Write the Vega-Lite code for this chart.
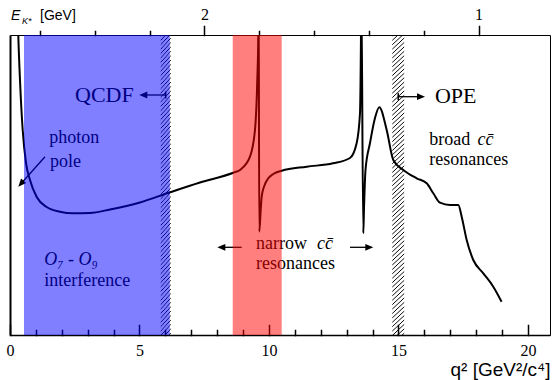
{
  "$schema": "https://vega.github.io/schema/vega-lite/v6.json",
  "width": 540,
  "height": 300,
  "autosize": {"type": "none"},
  "padding": {"left": 10, "top": 35, "right": 3, "bottom": 45},
  "config": {
    "view": {"stroke": "black", "strokeWidth": 1},
    "axis": {"grid": false, "domainColor": "black", "labelColor": "black", "titleColor": "black", "labelOverlap": false}
  },
  "datasets": {
    "curve": [
      {"q2": 0.29, "y": 330}, {"q2": 0.32, "y": 300}, {"q2": 0.386, "y": 255}, {"q2": 0.49, "y": 205},
      {"q2": 0.618, "y": 172}, {"q2": 0.772, "y": 155}, {"q2": 1.031, "y": 138}, {"q2": 1.417, "y": 128},
      {"q2": 1.931, "y": 123.3}, {"q2": 2.432, "y": 121.7}, {"q2": 3.089, "y": 122}, {"q2": 3.861, "y": 125.5},
      {"q2": 5.019, "y": 132.5}, {"q2": 6.178, "y": 142.7}, {"q2": 7.336, "y": 152.5}, {"q2": 8.622, "y": 162.3},
      {"q2": 8.88, "y": 165}, {"q2": 9.266, "y": 178.3}, {"q2": 9.459, "y": 205}, {"q2": 9.548, "y": 255},
      {"q2": 9.587, "y": 300}, {"q2": 9.6, "y": 345}, {"q2": 9.625, "y": 103.3}, {"q2": 9.68, "y": 125},
      {"q2": 9.718, "y": 138.3}, {"q2": 9.807, "y": 148.3}, {"q2": 9.973, "y": 156.7}, {"q2": 10.166, "y": 161},
      {"q2": 10.49, "y": 164.3}, {"q2": 11.456, "y": 168.3}, {"q2": 12.471, "y": 171.7}, {"q2": 13.127, "y": 177},
      {"q2": 13.386, "y": 192}, {"q2": 13.514, "y": 222}, {"q2": 13.552, "y": 300}, {"q2": 13.565, "y": 345},
      {"q2": 13.641, "y": 101.7}, {"q2": 13.67, "y": 128}, {"q2": 13.726, "y": 165}, {"q2": 13.9, "y": 192},
      {"q2": 14.093, "y": 217}, {"q2": 14.259, "y": 227.7}, {"q2": 14.544, "y": 205}, {"q2": 14.799, "y": 175},
      {"q2": 15.185, "y": 165}, {"q2": 15.703, "y": 156.7}, {"q2": 16.089, "y": 151.7}, {"q2": 16.344, "y": 141.7},
      {"q2": 16.602, "y": 132.3}, {"q2": 16.988, "y": 130}, {"q2": 17.309, "y": 130}, {"q2": 17.44, "y": 118.3},
      {"q2": 17.633, "y": 95}, {"q2": 17.888, "y": 75}, {"q2": 18.274, "y": 61.7}, {"q2": 18.66, "y": 48.3},
      {"q2": 18.98, "y": 33.3}
    ],
    "bands": [
      {"q2": 0.54, "q2b": 6.17, "band": "QCDF"},
      {"q2": 8.6, "q2b": 10.49, "band": "narrow"}
    ],
    "hatch": [
      {"q2": 5.82, "q2b": 6.21},
      {"q2": 14.76, "q2b": 15.22}
    ],
    "labels": [
      {"q2": 2.51, "y": 233.3, "text": "QCDF", "group": "big"},
      {"q2": 16.409, "y": 231.7, "text": "OPE", "group": "big"},
      {"q2": 1.517, "y": 191.7, "text": "photon", "group": "roman"},
      {"q2": 1.544, "y": 168.3, "text": "pole", "group": "roman"},
      {"q2": 1.324, "y": 49, "text": "interference", "group": "roman"},
      {"q2": 9.498, "y": 86, "text": "narrow", "group": "roman"},
      {"q2": 9.498, "y": 66, "text": "resonances", "group": "roman"},
      {"q2": 16.19, "y": 190, "text": "broad", "group": "roman"},
      {"q2": 16.19, "y": 170.5, "text": "resonances", "group": "roman"},
      {"q2": 1.324, "y": 70, "text": "O₇ - O₉", "group": "italic"},
      {"q2": 11.85, "y": 86, "text": "cc̄", "group": "italic"},
      {"q2": 18.05, "y": 190, "text": "cc̄", "group": "italic"},
      {"q2": 0.039, "y": 315, "text": "E", "group": "sansitalic"},
      {"q2": 0.46, "y": 311.5, "text": "K*", "group": "sub"},
      {"q2": 1.158, "y": 315, "text": "[GeV]", "group": "sans"}
    ],
    "arrows": [
      {"q2": 6.01, "q2b": 5.15, "y": 240, "yb": 240},
      {"q2": 14.99, "q2b": 15.87, "y": 238.3, "yb": 238.3},
      {"q2": 8.946, "q2b": 8.158, "y": 87.7, "yb": 87.7},
      {"q2": 13.127, "q2b": 13.873, "y": 87.7, "yb": 87.7},
      {"q2": 1.351, "q2b": 0.423, "y": 178.3, "yb": 151.3}
    ],
    "heads": [
      {"q2": 5.147, "y": 240, "dir": "left"},
      {"q2": 15.87, "y": 238.3, "dir": "right"},
      {"q2": 8.158, "y": 87.7, "dir": "left"},
      {"q2": 13.873, "y": 87.7, "dir": "right"},
      {"q2": 0.423, "y": 151.3, "dir": "downleft"}
    ],
    "tails": [
      {"q2": 6.01, "y": 240},
      {"q2": 14.99, "y": 238.3}
    ],
    "axisQ": [{"q2": 10}],
    "axisE": [{"E": 1.5}]
  },
  "layer": [
    {
      "layer": [
        {
          "data": {"name": "curve"},
          "mark": {"type": "line", "interpolate": "monotone", "color": "black", "strokeWidth": 2, "clip": true},
          "encoding": {
            "x": {
              "field": "q2", "type": "quantitative",
              "scale": {"domain": [0, 20.85], "nice": false, "zero": false},
              "axis": {
                "orient": "bottom",
                "values": [0, 5, 10, 15, 20],
                "format": "d",
                "ticks": true,
                "tickSize": -10,
                "tickWidth": 1.5,
                "tickColor": "#000000",
                "tickCap": "square",
                "tickOpacity": 1,
                "domainWidth": 1.5,
                "labelFont": "Liberation Serif",
                "labelFontSize": 16,
                "labelPadding": 17,
                "labelFlush": false,
                "labelOverlap": false,
                "title": "q² [GeV²/c⁴]",
                "titleFont": "Liberation Sans",
                "titleFontSize": 19,
                "titleFontWeight": "normal",
                "titleAnchor": "end",
                "titleAlign": "right",
                "titleBaseline": "alphabetic",
                "titleX": 540,
                "titleY": 40
              }
            },
            "y": {
              "field": "y", "type": "quantitative",
              "scale": {"domain": [0, 300], "nice": false, "zero": false},
              "axis": {"ticks": false, "labels": false, "title": null, "domainWidth": 2}
            }
          }
        },
        {
          "data": {"name": "labels"},
          "transform": [{"filter": "datum.group === 'big'"}],
          "mark": {"type": "text", "font": "Liberation Serif", "fontSize": 22, "align": "left", "baseline": "alphabetic", "color": "black"},
          "encoding": {
            "x": {"field": "q2", "type": "quantitative"},
            "y": {"field": "y", "type": "quantitative"},
            "text": {"field": "text"}
          }
        },
        {
          "data": {"name": "labels"},
          "transform": [{"filter": "datum.group === 'roman'"}],
          "mark": {"type": "text", "font": "Liberation Serif", "fontSize": 18, "align": "left", "baseline": "alphabetic", "color": "black"},
          "encoding": {
            "x": {"field": "q2", "type": "quantitative"},
            "y": {"field": "y", "type": "quantitative"},
            "text": {"field": "text"}
          }
        },
        {
          "data": {"name": "labels"},
          "transform": [{"filter": "datum.group === 'italic'"}],
          "mark": {"type": "text", "font": "Liberation Serif", "fontStyle": "italic", "fontSize": 18, "align": "left", "baseline": "alphabetic", "color": "black"},
          "encoding": {
            "x": {"field": "q2", "type": "quantitative"},
            "y": {"field": "y", "type": "quantitative"},
            "text": {"field": "text"}
          }
        },
        {
          "data": {"name": "labels"},
          "transform": [{"filter": "datum.group === 'sansitalic'"}],
          "mark": {"type": "text", "font": "Liberation Sans", "fontStyle": "italic", "fontSize": 14, "align": "left", "baseline": "alphabetic", "color": "black"},
          "encoding": {
            "x": {"field": "q2", "type": "quantitative"},
            "y": {"field": "y", "type": "quantitative"},
            "text": {"field": "text"}
          }
        },
        {
          "data": {"name": "labels"},
          "transform": [{"filter": "datum.group === 'sub'"}],
          "mark": {"type": "text", "font": "Liberation Sans", "fontStyle": "italic", "fontSize": 9, "align": "left", "baseline": "alphabetic", "color": "black"},
          "encoding": {
            "x": {"field": "q2", "type": "quantitative"},
            "y": {"field": "y", "type": "quantitative"},
            "text": {"field": "text"}
          }
        },
        {
          "data": {"name": "labels"},
          "transform": [{"filter": "datum.group === 'sans'"}],
          "mark": {"type": "text", "font": "Liberation Sans", "fontSize": 14, "align": "left", "baseline": "alphabetic", "color": "black"},
          "encoding": {
            "x": {"field": "q2", "type": "quantitative"},
            "y": {"field": "y", "type": "quantitative"},
            "text": {"field": "text"}
          }
        },
        {
          "data": {"name": "arrows"},
          "mark": {"type": "rule", "color": "black", "strokeWidth": 1.3},
          "encoding": {
            "x": {"field": "q2", "type": "quantitative"},
            "x2": {"field": "q2b"},
            "y": {"field": "y", "type": "quantitative"},
            "y2": {"field": "yb"}
          }
        },
        {
          "data": {"name": "heads"},
          "mark": {"type": "point", "shape": "M1,0L-1,-0.85L-1,0.85Z", "filled": true, "color": "black", "opacity": 1, "size": 64},
          "encoding": {
            "x": {"field": "q2", "type": "quantitative"},
            "y": {"field": "y", "type": "quantitative"},
            "angle": {"field": "dir", "type": "nominal", "scale": {"type": "ordinal", "domain": ["left", "right", "downleft"], "range": [180, 0, 131.7]}, "legend": null}
          }
        },
        {
          "data": {"name": "tails"},
          "mark": {"type": "point", "shape": "M0,-1L0,1", "filled": false, "stroke": "black", "strokeWidth": 1.5, "opacity": 1, "size": 49},
          "encoding": {
            "x": {"field": "q2", "type": "quantitative"},
            "y": {"field": "y", "type": "quantitative"}
          }
        },
        {
          "data": {"name": "hatch"},
          "mark": {
            "type": "rect",
            "fill": {
              "gradient": "linear", "x1": 0, "y1": 0, "x2": 0.0385, "y2": 1.04,
              "stops": [
                {"offset":0,"color":"rgba(0,0,0,0)"},{"offset":0.003,"color":"black"},{"offset":0.006,"color":"rgba(0,0,0,0)"},
                {"offset":0.0141,"color":"rgba(0,0,0,0)"},{"offset":0.0171,"color":"black"},{"offset":0.0201,"color":"rgba(0,0,0,0)"},
                {"offset":0.0282,"color":"rgba(0,0,0,0)"},{"offset":0.0312,"color":"black"},{"offset":0.0342,"color":"rgba(0,0,0,0)"},
                {"offset":0.0423,"color":"rgba(0,0,0,0)"},{"offset":0.0453,"color":"black"},{"offset":0.0483,"color":"rgba(0,0,0,0)"},
                {"offset":0.0564,"color":"rgba(0,0,0,0)"},{"offset":0.0594,"color":"black"},{"offset":0.0624,"color":"rgba(0,0,0,0)"},
                {"offset":0.0705,"color":"rgba(0,0,0,0)"},{"offset":0.0735,"color":"black"},{"offset":0.0765,"color":"rgba(0,0,0,0)"},
                {"offset":0.0846,"color":"rgba(0,0,0,0)"},{"offset":0.0876,"color":"black"},{"offset":0.0906,"color":"rgba(0,0,0,0)"},
                {"offset":0.0987,"color":"rgba(0,0,0,0)"},{"offset":0.1017,"color":"black"},{"offset":0.1047,"color":"rgba(0,0,0,0)"},
                {"offset":0.1128,"color":"rgba(0,0,0,0)"},{"offset":0.1158,"color":"black"},{"offset":0.1188,"color":"rgba(0,0,0,0)"},
                {"offset":0.1269,"color":"rgba(0,0,0,0)"},{"offset":0.1299,"color":"black"},{"offset":0.1329,"color":"rgba(0,0,0,0)"},
                {"offset":0.141,"color":"rgba(0,0,0,0)"},{"offset":0.144,"color":"black"},{"offset":0.147,"color":"rgba(0,0,0,0)"},
                {"offset":0.1551,"color":"rgba(0,0,0,0)"},{"offset":0.1581,"color":"black"},{"offset":0.1611,"color":"rgba(0,0,0,0)"},
                {"offset":0.1692,"color":"rgba(0,0,0,0)"},{"offset":0.1722,"color":"black"},{"offset":0.1752,"color":"rgba(0,0,0,0)"},
                {"offset":0.1833,"color":"rgba(0,0,0,0)"},{"offset":0.1863,"color":"black"},{"offset":0.1893,"color":"rgba(0,0,0,0)"},
                {"offset":0.1974,"color":"rgba(0,0,0,0)"},{"offset":0.2004,"color":"black"},{"offset":0.2034,"color":"rgba(0,0,0,0)"},
                {"offset":0.2115,"color":"rgba(0,0,0,0)"},{"offset":0.2145,"color":"black"},{"offset":0.2175,"color":"rgba(0,0,0,0)"},
                {"offset":0.2256,"color":"rgba(0,0,0,0)"},{"offset":0.2286,"color":"black"},{"offset":0.2316,"color":"rgba(0,0,0,0)"},
                {"offset":0.2397,"color":"rgba(0,0,0,0)"},{"offset":0.2427,"color":"black"},{"offset":0.2457,"color":"rgba(0,0,0,0)"},
                {"offset":0.2538,"color":"rgba(0,0,0,0)"},{"offset":0.2568,"color":"black"},{"offset":0.2598,"color":"rgba(0,0,0,0)"},
                {"offset":0.2679,"color":"rgba(0,0,0,0)"},{"offset":0.2709,"color":"black"},{"offset":0.2739,"color":"rgba(0,0,0,0)"},
                {"offset":0.282,"color":"rgba(0,0,0,0)"},{"offset":0.285,"color":"black"},{"offset":0.288,"color":"rgba(0,0,0,0)"},
                {"offset":0.2961,"color":"rgba(0,0,0,0)"},{"offset":0.2991,"color":"black"},{"offset":0.3021,"color":"rgba(0,0,0,0)"},
                {"offset":0.3102,"color":"rgba(0,0,0,0)"},{"offset":0.3132,"color":"black"},{"offset":0.3162,"color":"rgba(0,0,0,0)"},
                {"offset":0.3243,"color":"rgba(0,0,0,0)"},{"offset":0.3273,"color":"black"},{"offset":0.3303,"color":"rgba(0,0,0,0)"},
                {"offset":0.3384,"color":"rgba(0,0,0,0)"},{"offset":0.3414,"color":"black"},{"offset":0.3444,"color":"rgba(0,0,0,0)"},
                {"offset":0.3525,"color":"rgba(0,0,0,0)"},{"offset":0.3555,"color":"black"},{"offset":0.3585,"color":"rgba(0,0,0,0)"},
                {"offset":0.3666,"color":"rgba(0,0,0,0)"},{"offset":0.3696,"color":"black"},{"offset":0.3726,"color":"rgba(0,0,0,0)"},
                {"offset":0.3807,"color":"rgba(0,0,0,0)"},{"offset":0.3837,"color":"black"},{"offset":0.3867,"color":"rgba(0,0,0,0)"},
                {"offset":0.3948,"color":"rgba(0,0,0,0)"},{"offset":0.3978,"color":"black"},{"offset":0.4008,"color":"rgba(0,0,0,0)"},
                {"offset":0.4089,"color":"rgba(0,0,0,0)"},{"offset":0.4119,"color":"black"},{"offset":0.4149,"color":"rgba(0,0,0,0)"},
                {"offset":0.423,"color":"rgba(0,0,0,0)"},{"offset":0.426,"color":"black"},{"offset":0.429,"color":"rgba(0,0,0,0)"},
                {"offset":0.4371,"color":"rgba(0,0,0,0)"},{"offset":0.4401,"color":"black"},{"offset":0.4431,"color":"rgba(0,0,0,0)"},
                {"offset":0.4512,"color":"rgba(0,0,0,0)"},{"offset":0.4542,"color":"black"},{"offset":0.4572,"color":"rgba(0,0,0,0)"},
                {"offset":0.4653,"color":"rgba(0,0,0,0)"},{"offset":0.4683,"color":"black"},{"offset":0.4713,"color":"rgba(0,0,0,0)"},
                {"offset":0.4794,"color":"rgba(0,0,0,0)"},{"offset":0.4824,"color":"black"},{"offset":0.4854,"color":"rgba(0,0,0,0)"},
                {"offset":0.4935,"color":"rgba(0,0,0,0)"},{"offset":0.4965,"color":"black"},{"offset":0.4995,"color":"rgba(0,0,0,0)"},
                {"offset":0.5076,"color":"rgba(0,0,0,0)"},{"offset":0.5106,"color":"black"},{"offset":0.5136,"color":"rgba(0,0,0,0)"},
                {"offset":0.5217,"color":"rgba(0,0,0,0)"},{"offset":0.5247,"color":"black"},{"offset":0.5277,"color":"rgba(0,0,0,0)"},
                {"offset":0.5358,"color":"rgba(0,0,0,0)"},{"offset":0.5388,"color":"black"},{"offset":0.5418,"color":"rgba(0,0,0,0)"},
                {"offset":0.5499,"color":"rgba(0,0,0,0)"},{"offset":0.5529,"color":"black"},{"offset":0.5559,"color":"rgba(0,0,0,0)"},
                {"offset":0.564,"color":"rgba(0,0,0,0)"},{"offset":0.567,"color":"black"},{"offset":0.57,"color":"rgba(0,0,0,0)"},
                {"offset":0.5781,"color":"rgba(0,0,0,0)"},{"offset":0.5811,"color":"black"},{"offset":0.5841,"color":"rgba(0,0,0,0)"},
                {"offset":0.5922,"color":"rgba(0,0,0,0)"},{"offset":0.5952,"color":"black"},{"offset":0.5982,"color":"rgba(0,0,0,0)"},
                {"offset":0.6063,"color":"rgba(0,0,0,0)"},{"offset":0.6093,"color":"black"},{"offset":0.6123,"color":"rgba(0,0,0,0)"},
                {"offset":0.6204,"color":"rgba(0,0,0,0)"},{"offset":0.6234,"color":"black"},{"offset":0.6264,"color":"rgba(0,0,0,0)"},
                {"offset":0.6345,"color":"rgba(0,0,0,0)"},{"offset":0.6375,"color":"black"},{"offset":0.6405,"color":"rgba(0,0,0,0)"},
                {"offset":0.6486,"color":"rgba(0,0,0,0)"},{"offset":0.6516,"color":"black"},{"offset":0.6546,"color":"rgba(0,0,0,0)"},
                {"offset":0.6627,"color":"rgba(0,0,0,0)"},{"offset":0.6657,"color":"black"},{"offset":0.6687,"color":"rgba(0,0,0,0)"},
                {"offset":0.6768,"color":"rgba(0,0,0,0)"},{"offset":0.6798,"color":"black"},{"offset":0.6828,"color":"rgba(0,0,0,0)"},
                {"offset":0.6909,"color":"rgba(0,0,0,0)"},{"offset":0.6939,"color":"black"},{"offset":0.6969,"color":"rgba(0,0,0,0)"},
                {"offset":0.705,"color":"rgba(0,0,0,0)"},{"offset":0.708,"color":"black"},{"offset":0.711,"color":"rgba(0,0,0,0)"},
                {"offset":0.7191,"color":"rgba(0,0,0,0)"},{"offset":0.7221,"color":"black"},{"offset":0.7251,"color":"rgba(0,0,0,0)"},
                {"offset":0.7332,"color":"rgba(0,0,0,0)"},{"offset":0.7362,"color":"black"},{"offset":0.7392,"color":"rgba(0,0,0,0)"},
                {"offset":0.7473,"color":"rgba(0,0,0,0)"},{"offset":0.7503,"color":"black"},{"offset":0.7533,"color":"rgba(0,0,0,0)"},
                {"offset":0.7614,"color":"rgba(0,0,0,0)"},{"offset":0.7644,"color":"black"},{"offset":0.7674,"color":"rgba(0,0,0,0)"},
                {"offset":0.7755,"color":"rgba(0,0,0,0)"},{"offset":0.7785,"color":"black"},{"offset":0.7815,"color":"rgba(0,0,0,0)"},
                {"offset":0.7896,"color":"rgba(0,0,0,0)"},{"offset":0.7926,"color":"black"},{"offset":0.7956,"color":"rgba(0,0,0,0)"},
                {"offset":0.8037,"color":"rgba(0,0,0,0)"},{"offset":0.8067,"color":"black"},{"offset":0.8097,"color":"rgba(0,0,0,0)"},
                {"offset":0.8178,"color":"rgba(0,0,0,0)"},{"offset":0.8208,"color":"black"},{"offset":0.8238,"color":"rgba(0,0,0,0)"},
                {"offset":0.8319,"color":"rgba(0,0,0,0)"},{"offset":0.8349,"color":"black"},{"offset":0.8379,"color":"rgba(0,0,0,0)"},
                {"offset":0.846,"color":"rgba(0,0,0,0)"},{"offset":0.849,"color":"black"},{"offset":0.852,"color":"rgba(0,0,0,0)"},
                {"offset":0.8601,"color":"rgba(0,0,0,0)"},{"offset":0.8631,"color":"black"},{"offset":0.8661,"color":"rgba(0,0,0,0)"},
                {"offset":0.8742,"color":"rgba(0,0,0,0)"},{"offset":0.8772,"color":"black"},{"offset":0.8802,"color":"rgba(0,0,0,0)"},
                {"offset":0.8883,"color":"rgba(0,0,0,0)"},{"offset":0.8913,"color":"black"},{"offset":0.8943,"color":"rgba(0,0,0,0)"},
                {"offset":0.9024,"color":"rgba(0,0,0,0)"},{"offset":0.9054,"color":"black"},{"offset":0.9084,"color":"rgba(0,0,0,0)"},
                {"offset":0.9165,"color":"rgba(0,0,0,0)"},{"offset":0.9195,"color":"black"},{"offset":0.9225,"color":"rgba(0,0,0,0)"},
                {"offset":0.9306,"color":"rgba(0,0,0,0)"},{"offset":0.9336,"color":"black"},{"offset":0.9366,"color":"rgba(0,0,0,0)"},
                {"offset":0.9447,"color":"rgba(0,0,0,0)"},{"offset":0.9477,"color":"black"},{"offset":0.9507,"color":"rgba(0,0,0,0)"},
                {"offset":0.9588,"color":"rgba(0,0,0,0)"},{"offset":0.9618,"color":"black"},{"offset":0.9648,"color":"rgba(0,0,0,0)"},
                {"offset":0.9729,"color":"rgba(0,0,0,0)"},{"offset":0.9759,"color":"black"},{"offset":0.9789,"color":"rgba(0,0,0,0)"},
                {"offset":0.987,"color":"rgba(0,0,0,0)"},{"offset":0.99,"color":"black"},{"offset":0.993,"color":"rgba(0,0,0,0)"}
              ]
            }
          },
          "encoding": {
            "x": {"field": "q2", "type": "quantitative"},
            "x2": {"field": "q2b"}
          }
        },
        {
          "data": {"name": "bands"},
          "mark": {"type": "rect", "opacity": 0.5},
          "encoding": {
            "x": {"field": "q2", "type": "quantitative"},
            "x2": {"field": "q2b"},
            "color": {"field": "band", "type": "nominal", "scale": {"domain": ["QCDF", "narrow"], "range": ["#0000ff", "#ff0000"]}, "legend": null}
          }
        }
      ]
    },
    {
      "data": {"name": "axisQ"},
      "mark": {"type": "point", "opacity": 0},
      "encoding": {
        "x": {
          "field": "q2", "type": "quantitative",
          "scale": {"domain": [0, 20.85], "nice": false, "zero": false},
          "axis": {
            "orient": "bottom",
            "values": [1,2,3,4,6,7,8,9,11,12,13,14,16,17,18,19],
            "ticks": true,
            "tickSize": -5,
            "tickWidth": 1.5,
            "tickColor": "#000000",
            "tickCap": "square",
            "tickOpacity": 1,
            "domain": false,
            "labels": false,
            "title": null
          }
        }
      }
    },
    {
      "data": {"name": "axisE"},
      "mark": {"type": "point", "opacity": 0},
      "encoding": {
        "x": {
          "field": "E", "type": "quantitative",
          "scale": {"domain": [0.7394, 2.7095], "reverse": true, "nice": false, "zero": false},
          "axis": {
            "orient": "top",
            "values": [1, 2],
            "format": ".0f",
            "ticks": true,
            "tickSize": 9,
            "tickWidth": 1.5,
            "tickColor": "#000000",
            "tickCap": "square",
            "tickOpacity": 1,
            "domain": false,
            "labelFont": "Liberation Serif",
            "labelFontSize": 16,
            "labelPadding": 4,
            "labelFlush": false,
            "labelOverlap": false,
            "title": null
          }
        }
      }
    },
    {
      "data": {"name": "axisE"},
      "mark": {"type": "point", "opacity": 0},
      "encoding": {
        "x": {
          "field": "E", "type": "quantitative",
          "scale": {"domain": [0.7394, 2.7095], "reverse": true, "nice": false, "zero": false},
          "axis": {
            "orient": "top",
            "values": [1.2, 1.4, 1.6, 1.8, 2.2, 2.4, 2.6],
            "ticks": true,
            "tickSize": 4,
            "tickWidth": 1.5,
            "tickColor": "#000000",
            "tickCap": "square",
            "tickOpacity": 1,
            "domain": false,
            "labels": false,
            "title": null
          }
        }
      }
    }
  ],
  "resolve": {"scale": {"x": "independent"}}
}
